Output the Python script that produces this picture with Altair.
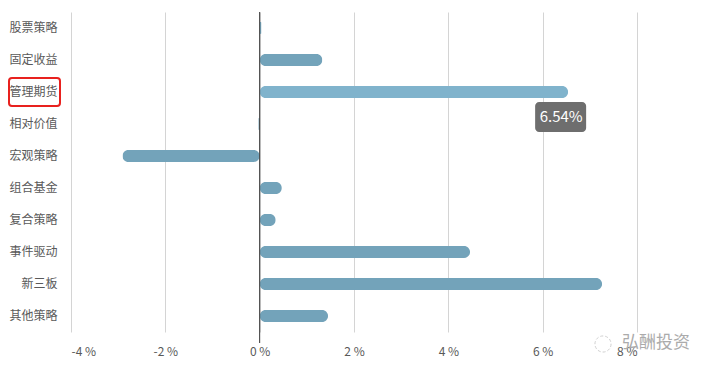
import altair as alt
import pandas as pd

categories = ["股票策略", "固定收益", "管理期货", "相对价值", "宏观策略",
              "组合基金", "复合策略", "事件驱动", "新三板", "其他策略"]
values = [0.04, 1.33, 6.54, -0.03, -2.91, 0.47, 0.34, 4.46, 7.26, 1.45]
tick_values = [-4, -2, 0, 2, 4, 6, 8]
highlight = "管理期货"
tooltip_label = "6.54%"
watermark = "弘酬投资"

FONT = "Noto Sans CJK SC"
df = pd.DataFrame({"cat": categories, "val": values})
df["hl"] = df["cat"] == highlight

W, H = 566, 320

y_enc = alt.Y("cat:N", sort=categories,
              scale=alt.Scale(paddingInner=0, paddingOuter=0),
              axis=alt.Axis(title=None, ticks=False, domain=False,
                            labelFontSize=12, labelColor="#595959",
                            labelFont=FONT, labelPadding=14))
x_enc = alt.X("val:Q",
              scale=alt.Scale(domain=[-4, 8], nice=False, zero=False),
              axis=alt.Axis(title=None, values=tick_values, ticks=False,
                            domain=False, grid=True, gridColor="#d4d4d4",
                            labelExpr="datum.value + ' %'",
                            labelFontSize=12, labelColor="#595959",
                            labelFont=FONT, labelPadding=14))

bars = alt.Chart(df).mark_bar(size=12, cornerRadius=6).encode(
    x=x_enc,
    y=y_enc,
    color=alt.condition("datum.hl", alt.value("#80B3CC"), alt.value("#73A3BA")),
)

zero = alt.Chart(pd.DataFrame({"z": [0]})).mark_rule(color="#333333", strokeWidth=1).encode(
    x="z:Q", y=alt.value(0), y2=alt.value(H + 11)
)

tip_df = df[df["hl"]].assign(label=tooltip_label)
tip_box = alt.Chart(tip_df).mark_bar(
    size=30, yOffset=25, xOffset=-33, x2Offset=18, cornerRadius=4,
    color="#6E6E6E"
).encode(x="val:Q", x2="val:Q", y=alt.Y("cat:N", sort=categories))
tip_text = alt.Chart(tip_df).mark_text(
    color="white", fontSize=15, font=FONT, dx=-7, dy=25
).encode(x="val:Q", y=alt.Y("cat:N", sort=categories), text="label:N")

red_box = alt.Chart(tip_df).mark_bar(
    size=28, filled=False, stroke="#E8211E", strokeWidth=2, cornerRadius=3
).encode(x=alt.value(-62), x2=alt.value(-11), y=alt.Y("cat:N", sort=categories))

wm_df = pd.DataFrame({"t": [watermark]})
wm_text = alt.Chart(wm_df).mark_text(
    fontSize=17, color="#ababab", font=FONT
).encode(x=alt.value(585), y=alt.value(331), text="t:N")
wm_icon = alt.Chart(wm_df).mark_point(
    shape="circle", size=260, filled=False, color="#bdbdbd", strokeWidth=1,
    strokeDash=[3, 2]
).encode(x=alt.value(532), y=alt.value(332))

chart = alt.layer(bars, zero, tip_box, tip_text, red_box, wm_text, wm_icon).properties(
    width=W, height=H,
    autosize=alt.AutoSizeParams(type="none"),
    padding={"left": 63, "top": 4, "right": 60, "bottom": 30},
).configure(background="white").configure_view(stroke=None)

chart.save("out.html", embed_options={"renderer": "svg", "actions": False})
